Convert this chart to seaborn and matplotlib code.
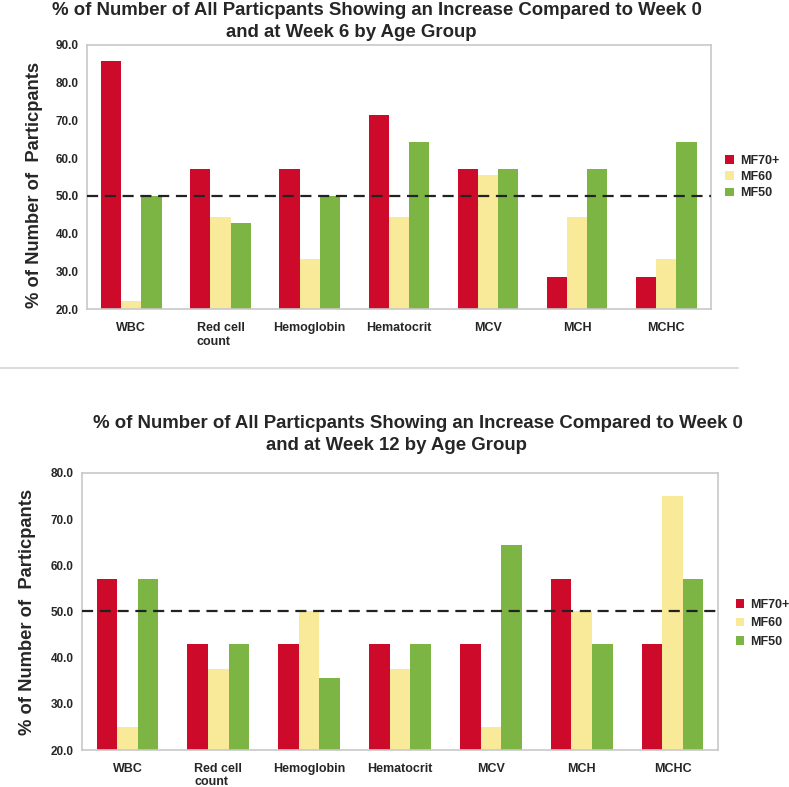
import pandas as pd
import matplotlib.pyplot as plt
import seaborn as sns

# data
tests = ['WBC', 'Red cell\ncount', 'Hemoglobin', 'Hematocrit', 'MCV', 'MCH', 'MCHC']
groups = ['MF70+', 'MF60', 'MF50']

wk6_mf70 = [85.7, 57.1, 57.1, 71.4, 57.1, 28.6, 28.6]
wk6_mf60 = [22.2, 44.4, 33.3, 44.4, 55.6, 44.4, 33.3]
wk6_mf50 = [50.0, 42.9, 50.0, 64.3, 57.1, 57.1, 64.3]

wk12_mf70 = [57.1, 42.9, 42.9, 42.9, 42.9, 57.1, 42.9]
wk12_mf60 = [25.0, 37.5, 50.0, 37.5, 25.0, 50.0, 75.0]
wk12_mf50 = [57.1, 42.9, 35.7, 42.9, 64.3, 42.9, 57.1]

colors = ['#CE0A2A', '#F8EA98', '#7CB544']

sns.set_style('white')
plt.rcParams['font.family'] = ['Liberation Sans', 'DejaVu Sans']


def long_df(a, b, c):
    rows = []
    for vals, g in zip([a, b, c], groups):
        for t, v in zip(tests, vals):
            rows.append({'test': t, 'group': g, 'value': v})
    return pd.DataFrame(rows)


fig = plt.figure(figsize=(7.89, 7.87), dpi=100)
ax1 = fig.add_axes([0.110, 0.607, 0.791, 0.336])
ax2 = fig.add_axes([0.104, 0.047, 0.806, 0.352])

panels = [
    (ax1, long_df(wk6_mf70, wk6_mf60, wk6_mf50), 90, 20, (0.905, 0.775), 9, 0.35, (-0.07, 0.47)),
    (ax2, long_df(wk12_mf70, wk12_mf60, wk12_mf50), 80, 20, (0.918, 0.208), 9, 0.5, (-0.073, 0.5)),
]

for ax, d, top, bot, legpos, legsize, legspace, ylab_xy in panels:
    sns.barplot(data=d, x='test', y='value', hue='group', palette=colors,
                width=0.68, gap=0, saturation=1, ax=ax, edgecolor='none')
    ax.set_ylim(bot, top)
    ax.set_xlim(-0.5, 6.5)
    ax.set_yticks(range(bot, top + 1, 10))
    ax.set_yticklabels([f'{v:.1f}' for v in range(bot, top + 1, 10)],
                       fontsize=8.5, fontweight='bold')
    ax.set_xticks(range(7))
    ax.set_xticklabels(tests, fontsize=9, fontweight='bold', ha='center',
                       va='top', multialignment='left')
    ax.tick_params(axis='x', length=0, pad=9)
    ax.tick_params(axis='y', length=0, pad=6)
    # small ticks between groups
    ax.set_xticks([i + 0.5 for i in range(-1, 7)], minor=True)
    ax.tick_params(axis='x', which='minor', length=4, color='#BBBBBB', direction='out')
    ax.axhline(50, color='#222222', linestyle=(0, (5, 3)), linewidth=1.6, zorder=5)
    for s in ax.spines.values():
        s.set_color('#C8C8C8')
        s.set_linewidth(1.2)
    ax.set_xlabel('')
    ax.set_ylabel('% of Number of  Particpants', fontsize=13.2, fontweight='bold')
    ax.yaxis.set_label_coords(*ylab_xy)
    ax.legend(loc='center left', bbox_to_anchor=legpos, bbox_transform=fig.transFigure,
              frameon=False, handlelength=0.7, handleheight=0.7,
              handletextpad=0.5, labelspacing=legspace,
              prop={'weight': 'bold', 'size': legsize})

fig.text(0.478, 0.987, '% of Number of All Particpants Showing an Increase Compared to Week 0',
         ha='center', va='center', fontsize=13.4, fontweight='bold')
fig.text(0.445, 0.959, 'and at Week 6 by Age Group',
         ha='center', va='center', fontsize=13.4, fontweight='bold')
fig.text(0.530, 0.462, '% of Number of All Particpants Showing an Increase Compared to Week 0',
         ha='center', va='center', fontsize=13.4, fontweight='bold')
fig.text(0.503, 0.434, 'and at Week 12 by Age Group',
         ha='center', va='center', fontsize=13.4, fontweight='bold')

# thin separator between the panels
fig.add_artist(plt.Line2D([0.0, 0.935], [0.533, 0.533], color='#DDDDDD', linewidth=1.5))

plt.savefig('out.png', dpi=100)
